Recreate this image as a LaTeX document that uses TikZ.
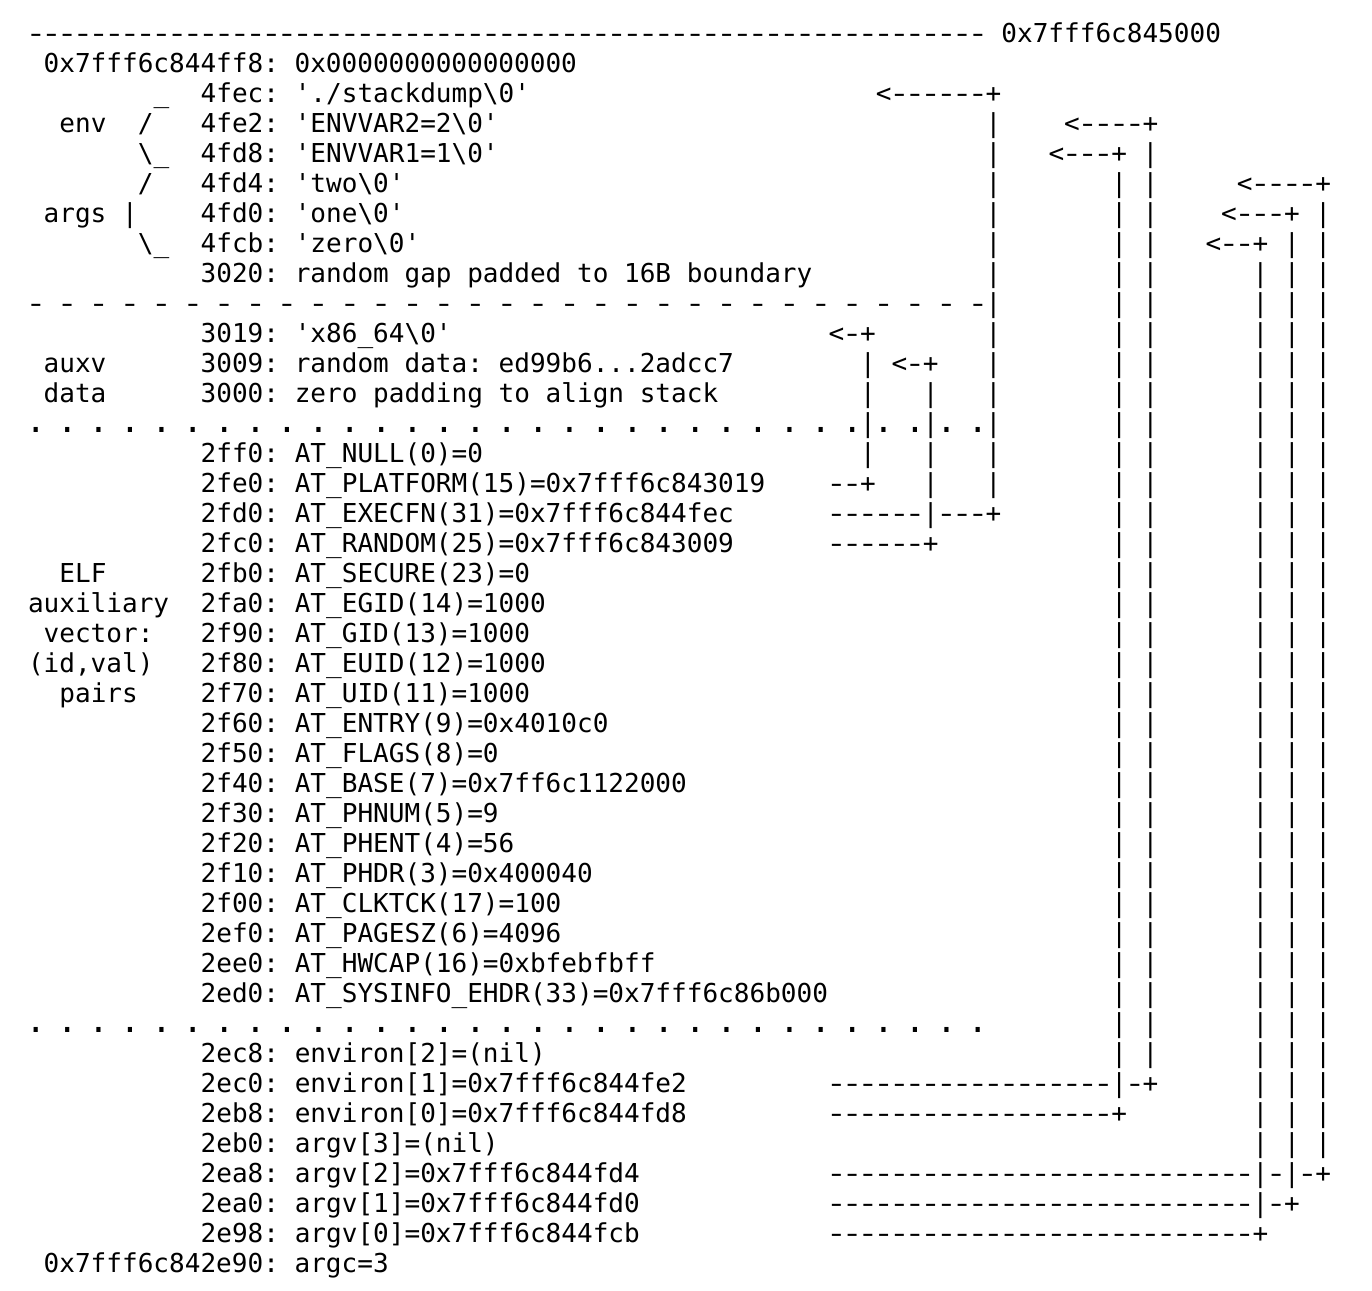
\documentclass[tikz,border=0pt]{standalone}
\usepackage{fontspec}
\setmonofont{DejaVu Sans Mono}
\tikzset{txt/.style={anchor=base west, inner sep=0pt, outer sep=0pt, font=\ttfamily\fontsize{26.05}{30}\selectfont},
  cell/.style={txt, anchor=base}}
% place text at (row, column) of the character grid
\newcommand\T[3]{\node[txt] (n#1-#2) at ({28+15.7*#2},{-42.5-30*#1}) {#3};}
% centred single character in cell (row, column)
\newcommand\C[3]{\node[cell] (n#1-#2) at ({35.85+15.7*#2},{-42.5-30*#1}) {#3};}
\newcommand\dsh{\makebox[14pt]{\scalebox{1.35}[1]{-}}}
\newcommand\dt{\makebox[14pt]{\scalebox{1.3}{.}}}
% run of dashes on one row, from column #2 to #3
\newcommand\Hd[3]{\foreach \hc in {#2,...,#3} {\C{#1}{\hc}{\dsh}}}
% vertical connector in column #1 from row #2 (+) to row #3 (+)
\newcommand\Vl[3]{\C{#2}{#1}{+}\C{#3}{#1}{+}%
  \pgfmathtruncatemacro\vs{#2+1}\pgfmathtruncatemacro\ve{#3-1}%
  \foreach \vr in {\vs,...,\ve} {\C{\vr}{#1}{|}}}
\begin{document}
\begin{tikzpicture}[x=1pt,y=1pt]
\fill[white] (0,0) rectangle (1372,-1290);
\useasboundingbox (0,0) rectangle (1372,-1290);
% top boundary
\Hd{0}{0}{60}
\T{0}{62}{0x7fff6c845000}
\T{1}{1}{0x7fff6c844ff8: 0x0000000000000000}
% strings area
\T{2}{8}{\_}
\T{2}{11}{4fec: './stackdump\textbackslash 0'}
\T{3}{2}{env}
\T{3}{7}{/}
\T{3}{11}{4fe2: 'ENVVAR2=2\textbackslash 0'}
\T{4}{7}{\textbackslash\_}
\T{4}{11}{4fd8: 'ENVVAR1=1\textbackslash 0'}
\T{5}{7}{/}
\T{5}{11}{4fd4: 'two\textbackslash 0'}
\T{6}{1}{args}
\T{6}{6}{|}
\T{6}{11}{4fd0: 'one\textbackslash 0'}
\T{7}{7}{\textbackslash\_}
\T{7}{11}{4fcb: 'zero\textbackslash 0'}
\T{8}{11}{3020: random gap padded to 16B boundary}
\foreach \c in {0,2,...,60} {\C{9}{\c}{\dsh}}
% auxv data
\T{10}{11}{3019: 'x86\_64\textbackslash 0'}
\T{11}{1}{auxv}
\T{11}{11}{3009: random data: ed99b6...2adcc7}
\T{12}{1}{data}
\T{12}{11}{3000: zero padding to align stack}
\foreach \c in {0,2,...,52,54,56,58,60} {\C{13}{\c}{\dt}}
% auxiliary vector
\T{14}{11}{2ff0: AT\_NULL(0)=0}
\T{15}{11}{2fe0: AT\_PLATFORM(15)=0x7fff6c843019}
\T{16}{11}{2fd0: AT\_EXECFN(31)=0x7fff6c844fec}
\T{17}{11}{2fc0: AT\_RANDOM(25)=0x7fff6c843009}
\T{18}{2}{ELF}
\T{18}{11}{2fb0: AT\_SECURE(23)=0}
\T{19}{0}{auxiliary}
\T{19}{11}{2fa0: AT\_EGID(14)=1000}
\T{20}{1}{vector:}
\T{20}{11}{2f90: AT\_GID(13)=1000}
\T{21}{0}{(id,val)}
\T{21}{11}{2f80: AT\_EUID(12)=1000}
\T{22}{2}{pairs}
\T{22}{11}{2f70: AT\_UID(11)=1000}
\T{23}{11}{2f60: AT\_ENTRY(9)=0x4010c0}
\T{24}{11}{2f50: AT\_FLAGS(8)=0}
\T{25}{11}{2f40: AT\_BASE(7)=0x7ff6c1122000}
\T{26}{11}{2f30: AT\_PHNUM(5)=9}
\T{27}{11}{2f20: AT\_PHENT(4)=56}
\T{28}{11}{2f10: AT\_PHDR(3)=0x400040}
\T{29}{11}{2f00: AT\_CLKTCK(17)=100}
\T{30}{11}{2ef0: AT\_PAGESZ(6)=4096}
\T{31}{11}{2ee0: AT\_HWCAP(16)=0xbfebfbff}
\T{32}{11}{2ed0: AT\_SYSINFO\_EHDR(33)=0x7fff6c86b000}
\foreach \c in {0,2,...,60} {\C{33}{\c}{\dt}}
% pointer arrays
\T{34}{11}{2ec8: environ[2]=(nil)}
\T{35}{11}{2ec0: environ[1]=0x7fff6c844fe2}
\T{36}{11}{2eb8: environ[0]=0x7fff6c844fd8}
\T{37}{11}{2eb0: argv[3]=(nil)}
\T{38}{11}{2ea8: argv[2]=0x7fff6c844fd4}
\T{39}{11}{2ea0: argv[1]=0x7fff6c844fd0}
\T{40}{11}{2e98: argv[0]=0x7fff6c844fcb}
\T{41}{1}{0x7fff6c842e90: argc=3}
% vertical connectors
\Vl{61}{2}{16}
\Vl{71}{3}{35}
\Vl{69}{4}{36}
\Vl{82}{5}{38}
\Vl{80}{6}{39}
\Vl{78}{7}{40}
\Vl{53}{10}{15}
\Vl{57}{11}{17}
% horizontal connectors
\C{2}{54}{<}\Hd{2}{55}{60}
\C{3}{66}{<}\Hd{3}{67}{70}
\C{4}{65}{<}\Hd{4}{66}{68}
\C{5}{77}{<}\Hd{5}{78}{81}
\C{6}{76}{<}\Hd{6}{77}{79}
\C{7}{75}{<}\Hd{7}{76}{77}
\C{10}{51}{<}\Hd{10}{52}{52}
\C{11}{55}{<}\Hd{11}{56}{56}
\Hd{15}{51}{52}
\Hd{16}{51}{56}\Hd{16}{58}{60}
\Hd{17}{51}{56}
\Hd{35}{51}{68}\Hd{35}{70}{70}
\Hd{36}{51}{68}
\Hd{38}{51}{77}\Hd{38}{79}{79}\Hd{38}{81}{81}
\Hd{39}{51}{77}\Hd{39}{79}{79}
\Hd{40}{51}{77}
\end{tikzpicture}
\end{document}
